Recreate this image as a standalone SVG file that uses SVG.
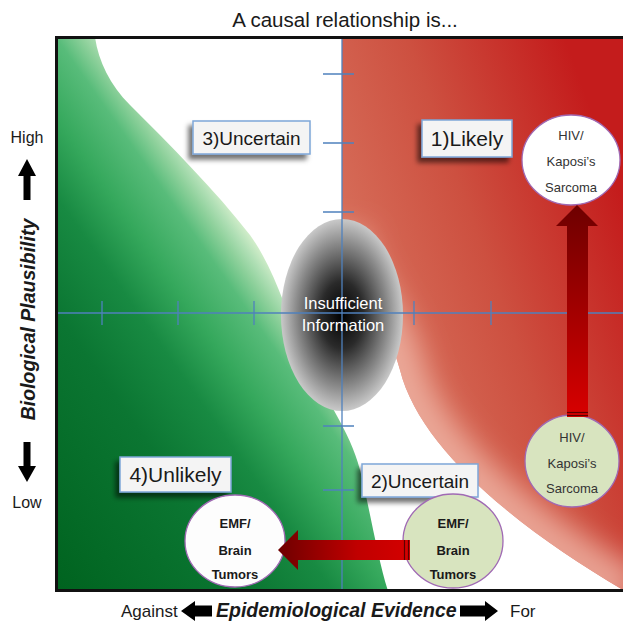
<svg xmlns="http://www.w3.org/2000/svg" width="623" height="625" viewBox="0 0 623 625">
<defs>
<style>
.t{font-family:"Liberation Sans",Arial,sans-serif;fill:#1a1a1a}
.lbl rect{fill:#f4f4f4;stroke:#7ea6d8;stroke-width:1.5}
.lbl text{font-family:"Liberation Sans",Arial,sans-serif;fill:#1a1a1a;text-anchor:middle}
.axis{stroke:#4f81bd;stroke-width:1.3;fill:none}
.circ ellipse{stroke:#a06ab4;stroke-width:1.3}
.circ text{font-family:"Liberation Sans",Arial,sans-serif;font-size:13px;fill:#333;text-anchor:middle}
.circ.b text{font-weight:bold;fill:#1a1a1a}
.stripe{stroke:#5a0000;stroke-width:1.2}
</style>
<linearGradient id="gGreen" gradientUnits="userSpaceOnUse" x1="57" y1="591" x2="355" y2="382">
<stop offset="0" stop-color="#00631f"/>
<stop offset="0.437" stop-color="#0b7632"/>
<stop offset="0.621" stop-color="#188a42"/>
<stop offset="0.745" stop-color="#35a85c"/>
<stop offset="0.871" stop-color="#58bc7a"/>
<stop offset="0.929" stop-color="#8fd19c"/>
<stop offset="0.964" stop-color="#b0dfb5"/>
<stop offset="1" stop-color="#d6efcd"/>
</linearGradient>
<linearGradient id="gRed" gradientUnits="userSpaceOnUse" x1="342" y1="300" x2="623" y2="200">
<stop offset="0" stop-color="#d8735e"/>
<stop offset="0.5" stop-color="#cd5040"/>
<stop offset="1" stop-color="#c41c1c"/>
</linearGradient>
<radialGradient id="gGray" cx="0.5" cy="0.5" r="0.5">
<stop offset="0" stop-color="#000"/>
<stop offset="0.35" stop-color="#2a2a2a"/>
<stop offset="0.75" stop-color="#8a8a8a"/>
<stop offset="1" stop-color="#c9c9c9"/>
</radialGradient>
<linearGradient id="gArrowV" x1="0" y1="0" x2="0" y2="1">
<stop offset="0" stop-color="#6e0000"/>
<stop offset="1" stop-color="#d80000"/>
</linearGradient>
<linearGradient id="gArrowH" x1="0" y1="0" x2="1" y2="0">
<stop offset="0" stop-color="#6e0000"/>
<stop offset="0.6" stop-color="#c00000"/>
<stop offset="1" stop-color="#d40000"/>
</linearGradient>
<filter id="sh" x="-20%" y="-30%" width="140%" height="170%">
<feDropShadow dx="-4" dy="5" stdDeviation="2.5" flood-color="#000" flood-opacity="0.55"/>
</filter>
<filter id="blur" x="-30%" y="-30%" width="160%" height="160%">
<feGaussianBlur stdDeviation="14"/>
</filter>
<clipPath id="plot"><rect x="57" y="38" width="566" height="552"/></clipPath>
<clipPath id="redClip"><path d="M342,37 L630,37 L630,594 C520,530 420,450 400,370 C385,310 342,280 342,230 Z"/></clipPath>
</defs>

<rect width="623" height="625" fill="#fff"/>

<g id="background" clip-path="url(#plot)">
<path d="M57,37 L95,37 C98,60 110,85 130,105 C170,145 215,190 250,235 C275,270 285,310 305,355 C325,400 350,430 360,470 C370,510 378,560 388,591 L57,591 Z" fill="url(#gGreen)"/>
<path d="M342,37 L630,37 L630,594 C520,530 420,450 400,370 C385,310 342,280 342,230 Z" fill="url(#gRed)"/>
<g clip-path="url(#redClip)">
<path d="M630,594 C520,530 420,450 400,370 C385,310 342,280 342,230" fill="none" stroke="#f2bcad" stroke-width="50" stroke-opacity="0.75" filter="url(#blur)"/>
</g>
</g>

<g id="insufficient">
<ellipse cx="342" cy="315" rx="61" ry="96" fill="url(#gGray)"/>
</g>

<g id="axes">
<line class="axis" x1="342" y1="38" x2="342" y2="590"/>
<line class="axis" x1="57" y1="313" x2="623" y2="313"/>
<path class="axis" d="M323,74H354M323,143H354M323,212H354M323,426H354M323,490H354"/>
<path class="axis" d="M102,301V325M178,301V325M254,301V325M414,301V325M491,301V325"/>
</g>

<g id="insufficient-label">
<text class="t" x="343" y="309" font-size="16.5" style="fill:#fff" text-anchor="middle">Insufficient</text>
<text class="t" x="343" y="331" font-size="16.5" style="fill:#fff" text-anchor="middle">Information</text>
</g>

<rect x="56.5" y="37.5" width="580" height="553" fill="none" stroke="#111" stroke-width="3"/>

<g id="label-3" class="lbl">
<rect x="193" y="121" width="117" height="33" filter="url(#sh)"/>
<text x="251.5" y="144.5" font-size="19">3)Uncertain</text>
</g>
<g id="label-1" class="lbl">
<rect x="422" y="120" width="90" height="37" filter="url(#sh)"/>
<text x="467" y="146" font-size="21">1)Likely</text>
</g>
<g id="label-4" class="lbl">
<rect x="120" y="457" width="111" height="35" filter="url(#sh)"/>
<text x="175.5" y="482" font-size="21">4)Unlikely</text>
</g>
<g id="label-2" class="lbl">
<rect x="362" y="464" width="116" height="33" filter="url(#sh)"/>
<text x="420" y="488" font-size="19">2)Uncertain</text>
</g>

<g id="hiv-top" class="circ">
<ellipse cx="571" cy="160" rx="49" ry="45" fill="#fff"/>
<text x="571" y="140">HIV/</text>
<text x="571" y="166">Kaposi’s</text>
<text x="571" y="192">Sarcoma</text>
</g>
<g id="hiv-bottom" class="circ">
<ellipse cx="572" cy="461" rx="47" ry="46" fill="#d8e4bf"/>
<text x="572" y="442">HIV/</text>
<text x="572" y="468">Kaposi’s</text>
<text x="572" y="493">Sarcoma</text>
</g>
<g id="emf-left" class="circ b">
<ellipse cx="235" cy="541" rx="50" ry="46" fill="#fdfdfd"/>
<text x="235" y="528">EMF/</text>
<text x="235" y="555">Brain</text>
<text x="235" y="579">Tumors</text>
</g>
<g id="emf-right" class="circ b">
<ellipse cx="453" cy="541" rx="50" ry="47" fill="#d8e4bf"/>
<text x="453" y="528">EMF/</text>
<text x="453" y="555">Brain</text>
<text x="453" y="579">Tumors</text>
</g>

<g id="connectors">
<polygon points="567,417 567,226 556,226 577,205 598,226 588,226 588,417" fill="url(#gArrowV)"/>
<line class="stripe" x1="567" y1="412.5" x2="588" y2="412.5"/>
<line class="stripe" x1="567" y1="415.5" x2="588" y2="415.5"/>
<polygon points="410,540 298,540 298,530 278,550 298,570 298,560 410,560" fill="url(#gArrowH)"/>
<line class="stripe" x1="404.5" y1="540" x2="404.5" y2="560"/>
<line class="stripe" x1="408.5" y1="540" x2="408.5" y2="560"/>
</g>

<g id="titles">
<text class="t" x="345" y="27" font-size="20.5" text-anchor="middle">A causal relationship is...</text>
<text class="t" x="27" y="143" font-size="16" text-anchor="middle">High</text>
<text class="t" x="27" y="508" font-size="16" text-anchor="middle">Low</text>
<text class="t" transform="translate(35,319.5) rotate(-90)" font-size="19.5" font-weight="bold" font-style="italic" text-anchor="middle">Biological Plausibility</text>
<text class="t" x="121" y="617" font-size="17">Against</text>
<text class="t" x="216" y="617" font-size="19.5" font-weight="bold" font-style="italic">Epidemiological Evidence</text>
<text class="t" x="510" y="617" font-size="17">For</text>
<polygon points="27,159 36,176 30.5,176 30.5,200 23.5,200 23.5,176 18,176" fill="#000"/>
<polygon points="23.5,442 30.5,442 30.5,466 36,466 27,482 18,466 23.5,466" fill="#000"/>
<polygon points="181,611 195,601 195,605.5 212,605.5 212,616.5 195,616.5 195,621" fill="#000"/>
<polygon points="460,605.5 485,605.5 485,601 498,611 485,621 485,616.5 460,616.5" fill="#000"/>
</g>
</svg>
